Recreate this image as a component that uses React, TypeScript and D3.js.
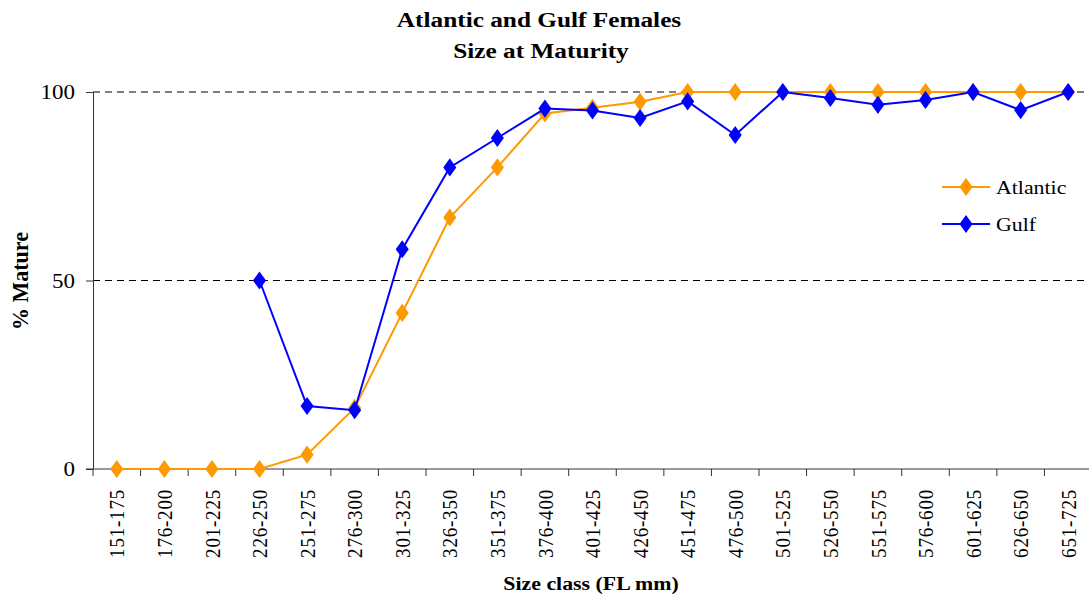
import React, { useRef, useEffect } from "react";
import * as d3 from "d3";

const sizeClasses = [
  "151-175", "176-200", "201-225", "226-250", "251-275", "276-300", "301-325",
  "326-350", "351-375", "376-400", "401-425", "426-450", "451-475", "476-500",
  "501-525", "526-550", "551-575", "576-600", "601-625", "626-650", "651-725",
];

const atlantic: (number | null)[] = [
  0, 0, 0, 0, 3.8, 16.2, 41.4, 66.7, 80, 94.3, 95.8, 97.4, 100, 100,
  100, 100, 100, 100, 100, 100, 100,
];

const gulf: (number | null)[] = [
  null, null, null, 50, 16.7, 15.6, 58.3, 80, 87.8, 95.6, 95.1, 93.1, 97.5, 88.6,
  100, 98.4, 96.6, 97.9, 100, 95.2, 100,
];

const yTicks = [0, 50, 100];

const seriesList = [
  { name: "Atlantic", values: atlantic, color: "#FF9900" },
  { name: "Gulf", values: gulf, color: "#0000FF" },
];

const App = () => {
  const svgRef = useRef<SVGSVGElement>(null);

  useEffect(() => {
    const svg = d3.select(svgRef.current);
    svg.selectAll("*").remove();

    const font = "'Liberation Serif', 'Times New Roman', serif";
    const left = 93, right = 1092, top = 92, bottom = 469;
    const sx = 1.15; // the picture is a bit wider than tall

    const x = d3.scaleBand().domain(sizeClasses).range([left, right]);
    const y = d3.scaleLinear().domain([0, 100]).range([bottom, top]);
    const cx = (c: string) => (x(c) as number) + x.bandwidth() / 2;

    // gridlines (dashed) for 50 & 100
    svg.append("g")
      .selectAll("line")
      .data(yTicks.filter(t => t > 0))
      .enter()
      .append("line")
      .attr("x1", left)
      .attr("x2", 1089)
      .attr("y1", d => y(d))
      .attr("y2", d => y(d))
      .attr("stroke", "#000")
      .attr("stroke-width", 1)
      .attr("stroke-dasharray", "7,5");

    // y axis
    const yAxis = svg.append("g")
      .attr("transform", `translate(${left},0)`)
      .call(d3.axisLeft(y).tickValues(yTicks).tickSize(7).tickSizeOuter(0));
    yAxis.select(".domain").attr("stroke", "#333");
    yAxis.selectAll(".tick line").attr("stroke", "#333");
    yAxis.selectAll("text")
      .attr("font-family", font)
      .attr("font-size", 20)
      .attr("fill", "#000")
      .attr("x", 0)
      .attr("dy", "0.33em")
      .attr("transform", `translate(-18,0) scale(${sx},1)`);

    // x axis
    const xAxis = svg.append("g")
      .attr("transform", `translate(0,${bottom})`)
      .call(d3.axisBottom(x).tickSize(0).tickSizeOuter(0));
    xAxis.select(".domain").remove();
    svg.append("line")
      .attr("x1", left - 7).attr("x2", 1089)
      .attr("y1", bottom).attr("y2", bottom)
      .attr("stroke", "#333");
    svg.append("g")
      .selectAll("line")
      .data(sizeClasses)
      .enter()
      .append("line")
      .attr("x1", d => x(d) as number)
      .attr("x2", d => x(d) as number)
      .attr("y1", bottom)
      .attr("y2", bottom + 7)
      .attr("stroke", "#333");
    xAxis.selectAll("text")
      .attr("font-family", font)
      .attr("font-size", 19)
      .attr("letter-spacing", "0.8px")
      .attr("fill", "#000")
      .attr("transform", `scale(${sx},1) rotate(-90)`)
      .attr("text-anchor", "end")
      .attr("x", -20)
      .attr("y", 0)
      .attr("dy", "0.35em");

    // series
    const diamond = d3.symbol().type(d3.symbolDiamond).size(95);
    seriesList.forEach(s => {
      const pts = sizeClasses
        .map((c, i) => ({ c, v: s.values[i] }))
        .filter(p => p.v !== null) as { c: string; v: number }[];
      const line = d3.line<{ c: string; v: number }>()
        .x(p => cx(p.c))
        .y(p => y(p.v));
      svg.append("path")
        .datum(pts)
        .attr("d", line)
        .attr("fill", "none")
        .attr("stroke", s.color)
        .attr("stroke-width", 2);
      svg.append("g")
        .selectAll("path")
        .data(pts)
        .enter()
        .append("path")
        .attr("d", diamond)
        .attr("transform", p => `translate(${cx(p.c)},${y(p.v)}) scale(1.25,1)`)
        .attr("fill", s.color);
    });

    // legend
    const legend = svg.append("g").attr("transform", "translate(942,187)");
    seriesList.forEach((s, i) => {
      const g = legend.append("g").attr("transform", `translate(0,${i * 37})`);
      g.append("line")
        .attr("x1", 0).attr("x2", 48)
        .attr("stroke", s.color).attr("stroke-width", 2);
      g.append("path")
        .attr("d", diamond)
        .attr("transform", "translate(24,0) scale(1.25,1)")
        .attr("fill", s.color);
      g.append("text")
        .attr("transform", `translate(54,0) scale(${sx},1)`)
        .attr("dy", "0.35em")
        .attr("font-family", font)
        .attr("font-size", 19)
        .text(s.name);
    });

    const addText = (tx: number, ty: number, size: number, str: string, rot = false, k = sx) =>
      svg.append("text")
        .attr("transform", `translate(${tx},${ty}) scale(${k},1)${rot ? " rotate(-90)" : ""}`)
        .attr("text-anchor", "middle")
        .attr("font-family", font)
        .attr("font-weight", "bold")
        .attr("font-size", size)
        .text(str);

    // title
    addText(539, 27, 22, "Atlantic and Gulf Females");
    addText(541, 58, 22, "Size at Maturity");

    // axis labels
    addText(591, 590, 19, "Size class (FL mm)");
    addText(28, 281, 22, "% Mature", true, 1.08);
  }, []);

  return (
    <svg
      ref={svgRef}
      width={1089}
      height={600}
      style={{ position: "absolute", left: 0, top: 0, background: "#fff" }}
    />
  );
};

export default App;
